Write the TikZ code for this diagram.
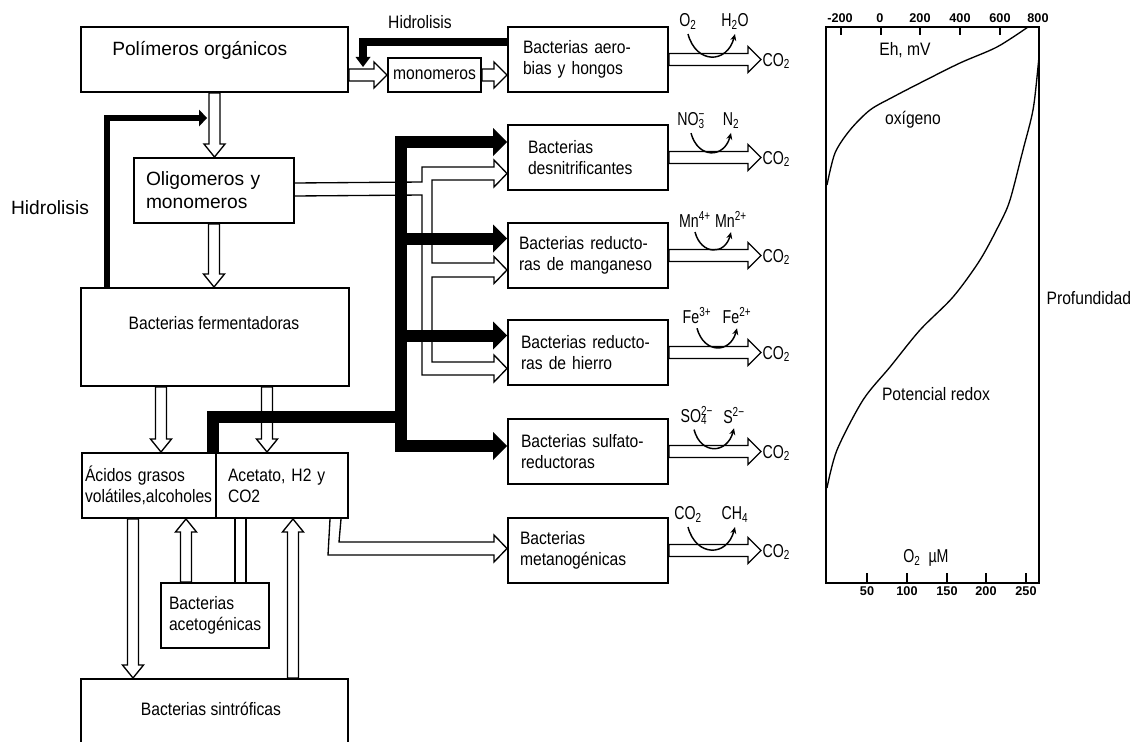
\documentclass[tikz,border=0pt]{standalone}
\usepackage{fontspec}
\setmainfont{Liberation Sans}
\newfontfamily\narf[FakeStretch=0.87]{Liberation Sans}
\newfontfamily\chemfam[FakeStretch=0.76]{Liberation Sans}
\usetikzlibrary{arrows.meta,calc}
\newcommand{\nf}{\narf\fontsize{13.5}{15.75}\selectfont}
\newcommand{\chf}{\chemfam\fontsize{14}{15}\selectfont}
\newcommand{\bgf}{\fontsize{14.4}{17.25}\selectfont}
\newcommand{\tkf}{\fontsize{9.5}{10}\selectfont\bfseries}
\newcommand{\arrHS}{4.5pt}
\newcommand{\arrHW}{9.75pt}
\newcommand{\arrHL}{9.75pt}
\newcommand{\arrVS}{4.1pt}
\newcommand{\arrVW}{7.9pt}
\newcommand{\arrVL}{9.75pt}
\tikzset{
  bx/.style={draw, line width=1.5pt, anchor=north west, inner ysep=0pt, align=left, font=\nf, minimum height=48.75pt},
  eb/.style={draw, line width=1.5pt, anchor=north west, inner sep=0pt},
  txt/.style={font=\nf, inner sep=1pt},
  chem/.style={font=\chf, inner sep=1pt},
  hr/.style={draw, line width=1pt, to path={let \p1=(\tikztostart), \p2=(\tikztotarget) in
    (\x1,\y1+\arrHS) -- (\x2-\arrHL,\y1+\arrHS) -- (\x2-\arrHL,\y1+\arrHW) -- (\x2,\y1) -- (\x2-\arrHL,\y1-\arrHW) -- (\x2-\arrHL,\y1-\arrHS) -- (\x1,\y1-\arrHS) -- cycle}},
  hd/.style={draw, line width=1pt, to path={let \p1=(\tikztostart), \p2=(\tikztotarget) in
    (\x1+\arrVS,\y1) -- (\x1+\arrVS,\y2+\arrVL) -- (\x1+\arrVW,\y2+\arrVL) -- (\x1,\y2) -- (\x1-\arrVW,\y2+\arrVL) -- (\x1-\arrVS,\y2+\arrVL) -- (\x1-\arrVS,\y1) -- cycle}},
  hu/.style={draw, line width=1pt, to path={let \p1=(\tikztostart), \p2=(\tikztotarget) in
    (\x1+\arrVS,\y1) -- (\x1+\arrVS,\y2-\arrVL) -- (\x1+\arrVW,\y2-\arrVL) -- (\x1,\y2) -- (\x1-\arrVW,\y2-\arrVL) -- (\x1-\arrVS,\y2-\arrVL) -- (\x1-\arrVS,\y1) -- cycle}},
  pipe/.style={draw, line width=1pt},
  blkl/.style={draw, line width=9pt},
  blka/.style={draw, line width=9pt, -{Triangle[length=10.5pt,width=21pt,line width=0pt]}},
  blk1/.style={draw, line width=6pt, -{Triangle[length=7.5pt,width=11.25pt,line width=0pt]}},
  blk2/.style={draw, line width=5pt, -{Triangle[length=6pt,width=12.75pt,line width=0pt]}},
  rx/.style={draw, line width=1.1pt, -{Stealth[length=5pt,width=4.5pt]}, out=-75, in=-105, looseness=1.7},
  tick/.style={font=\tkf, inner sep=0.5pt},
  curve/.style={draw, line width=1pt},
}
\begin{document}
\begin{tikzpicture}[x=0.75pt, y=-0.75pt, line join=miter]
\clip (0,0) rectangle (1135,742);
% ---------- boxes ----------
\node[eb, minimum width=200.25pt, minimum height=48.75pt] (poly) at (80,26) {};
\node[anchor=west, font=\bgf, inner sep=0pt] (polyt) at (112,50.5) {Polímeros orgánicos};
\node[eb, minimum width=69.75pt, minimum height=25.5pt, font=\nf] (mono) at (387,57) {monomeros};
\node[bx, text width=97.5pt, inner xsep=11.25pt] (aero) at (507,26) {Bacterias aero-\\bias y hongos};
\node[bx, text width=90pt, inner xsep=15pt] (desn) at (507,124) {Bacterias\\desnitrificantes};
\node[bx, text width=103.5pt, inner xsep=8.25pt] (mang) at (507,222) {Bacterias reducto-\\ras de manganeso};
\node[bx, text width=100.5pt, inner xsep=9.75pt] (hier) at (507,319) {Bacterias reducto-\\ras de hierro};
\node[bx, text width=100.5pt, inner xsep=9.75pt] (sulf) at (507,418) {Bacterias sulfato-\\reductoras};
\node[bx, text width=102pt, inner xsep=9pt] (metan) at (507,517) {Bacterias\\metanogénicas};
\node[bx, text width=102pt, inner xsep=9pt, font=\bgf] (olig) at (133,157) {Oligomeros y\\monomeros};
\node[eb, minimum width=201pt, minimum height=73.5pt] (ferm) at (80,287) {};
\node[txt] (fermt) at (214,323) {Bacterias fermentadoras};
\node[bx, text width=96pt, inner xsep=2.25pt] (acid) at (81,452) {Ácidos grasos\\volátiles,alcoholes};
\node[bx, text width=81pt, inner xsep=9pt] (acet) at (215,452) {Acetato, H2 y\\CO2};
\node[bx, text width=69pt, inner xsep=6pt] (acetog) at (160,582) {Bacterias\\acetogénicas};
\node[eb, minimum width=200.25pt, minimum height=75pt] (sint) at (80,678) {};
\node[txt] (sintt) at (211,709) {Bacterias sintróficas};
% ---------- labels ----------
\node[txt] (hidtop) at (420,22) {Hidrolisis};
\node[font=\bgf, inner sep=0pt] (hidleft) at (50,208) {Hidrolisis};
% ---------- hollow arrows ----------
\draw[hd] (poly.south) to (olig.north);
\draw[hd] (olig.south) to (ferm.north);
\draw[hd] ($(ferm.south west)+(81,0)$) to (acid.north);
\draw[hd] ($(ferm.south west)+(187,0)$) to (acet.north);
\draw[hd] ($(acid.south west)+(52,0)$) to (sint.north);
\draw[hu] ($(acetog.north west)+(26,0)$) to (acid.south);
\draw[hu] ($(sint.north west)+(213,0)$) to (acet.south);
\draw[pipe] ($(acet.south west)+(20,0)$) -- ($(acetog.north west)+(75,0)$);
\draw[pipe] ($(acet.south west)+(31,0)$) -- ($(acetog.north west)+(86,0)$);
\draw[hr] (poly.east |- mono.west) to (mono.west);
\draw[hr] (mono.east) to (aero.west);
% branching pipe from oligomeros
\draw[pipe] ($(olig.east)+(0,-7.5)$) -- (422,182) -- (422,167) -- (494,167) -- (494,160) -- (507,173.5) -- (494,187) -- (494,180)
  -- (432,180) -- (432,263) -- (494,263) -- (494,256.5) -- (507,270) -- (494,283.5) -- (494,277)
  -- (432,277) -- (432,362) -- (494,362) -- (494,355) -- (507,368.5) -- (494,382) -- (494,375)
  -- (422,375) -- (422,195) -- ($(olig.east)+(0,5.5)$);
% pipe to metanogenicas
\draw[pipe] ($(acet.south east)+(-19,0)$) -- (328,555) -- (494,555) -- (494,562) -- (507,548.5) -- (494,535) -- (494,542) -- (339,542) -- ($(acet.south east)+(-8,0)$);
% ---------- CO2 outputs ----------
\foreach \b/\k in {aero/1, desn/2, mang/3, hier/4, sulf/5, metan/6}{
  \node[chem, anchor=west] (co\k) at ($(\b.east)+(92,1.5)$) {CO\textsubscript{2}};
}
\draw[hr] (aero.east) to (co1.west);
\draw[hr] (desn.east) to (co2.west);
\draw[hr] (mang.east) to (co3.west);
\draw[hr] (hier.east) to (co4.west);
\draw[hr] (sulf.east) to (co5.west);
\draw[hr] (metan.east) to (co6.west);
% reaction labels
\node[chem] (ra1) at ($(aero.east)+(19,-38)$) {O\textsubscript{2}};
\node[chem] (rb1) at ($(aero.east)+(66,-38)$) {H\textsubscript{2}O};
\node[chem] (ra2) at ($(desn.east)+(22,-37)$) {NO\rlap{\textsuperscript{−}}\textsubscript{3}};
\node[chem] (rb2) at ($(desn.east)+(62,-37)$) {N\textsubscript{2}};
\node[chem] (ra3) at ($(mang.east)+(26,-36)$) {Mn\textsuperscript{4+}};
\node[chem] (rb3) at ($(mang.east)+(62,-36)$) {Mn\textsuperscript{2+}};
\node[chem] (ra4) at ($(hier.east)+(28,-37)$) {Fe\textsuperscript{3+}};
\node[chem] (rb4) at ($(hier.east)+(68,-37)$) {Fe\textsuperscript{2+}};
\node[chem] (ra5) at ($(sulf.east)+(25,-36)$) {SO\rlap{\textsuperscript{2−}}\textsubscript{4}\hspace{3pt}};
\node[chem] (rb5) at ($(sulf.east)+(65,-36)$) {S\textsuperscript{2−}};
\node[chem] (ra6) at ($(metan.east)+(19,-36)$) {CO\textsubscript{2}};
\node[chem] (rb6) at ($(metan.east)+(66,-36)$) {CH\textsubscript{4}};
\foreach \k in {1,...,6}{
  \draw[rx] ($(ra\k.south)+(0,3)$) to ($(rb\k.south)+(0,3)$);
}
% ---------- black arrows ----------
\coordinate (k1) at (363,67);
\draw[blk1] ($(aero.west)+(0,-17.5)$) -| (k1);
\coordinate (k2) at (207,118);
\draw[blk2] ($(ferm.north west)+(27,0)$) |- (k2);
\coordinate (trunk) at (401,417);
\coordinate (db) at ($(desn.west)+(0,-15.5)$);
\coordinate (mb) at ($(mang.west)+(0,-17)$);
\coordinate (hb) at ($(hier.west)+(0,-17)$);
\coordinate (sb) at ($(sulf.west)+(0,-5.5)$);
\draw[blkl] ($(acet.north west)+(-2,0)$) |- (trunk);
\draw[blka] (trunk) |- (db);
\draw[blka] (trunk) |- (sb);
\draw[blka] (trunk |- mb) -- (mb);
\draw[blka] (trunk |- hb) -- (hb);
% ---------- chart ----------
\draw[line width=0.8pt] (826,27) rectangle (1039,583);
\draw[line width=1.3pt] (826,27) -- (1039,27);
\draw[line width=1.3pt] (826,583) -- (1039,583);
\foreach \x in {841,881,920,960,1000}{\draw[line width=1.2pt] (\x,27) -- (\x,35);}
\foreach \x in {867,907,947,986,1026}{\draw[line width=1.2pt] (\x,583) -- (\x,573);}
\foreach \x/\l [count=\i] in {840/-200, 880/0, 920/200, 960/400, 1000/600, 1038/800}{
  \node[tick] (tt\i) at (\x,18) {\l};}
\foreach \x/\l [count=\i] in {867/50, 907/100, 947/150, 986/200, 1026/250}{
  \node[tick] (tb\i) at (\x,591) {\l};}
\draw[curve] plot[smooth] coordinates {(1028,27) (997,47) (960,63) (920,83) (893,97) (870,110) (850,130) (835,153) (827,185)};
\draw[curve] plot[smooth] coordinates {(827,488) (837,450) (863,400) (890,367) (920,330) (953,297) (980,260) (1000,223) (1010,200) (1023,150) (1033,110) (1038,67) (1039,55)};
\node[txt] (eh) at (905,50) {Eh, mV};
\node[txt] (oxi) at (913,120) {oxígeno};
\node[txt] (pot) at (936,394) {Potencial redox};
\node[txt, anchor=west] (prof) at (1045,298) {Profundidad};
\node[chem] (o2um) at (926,558) {O\textsubscript{2}\ \ µM};
\end{tikzpicture}
\end{document}
